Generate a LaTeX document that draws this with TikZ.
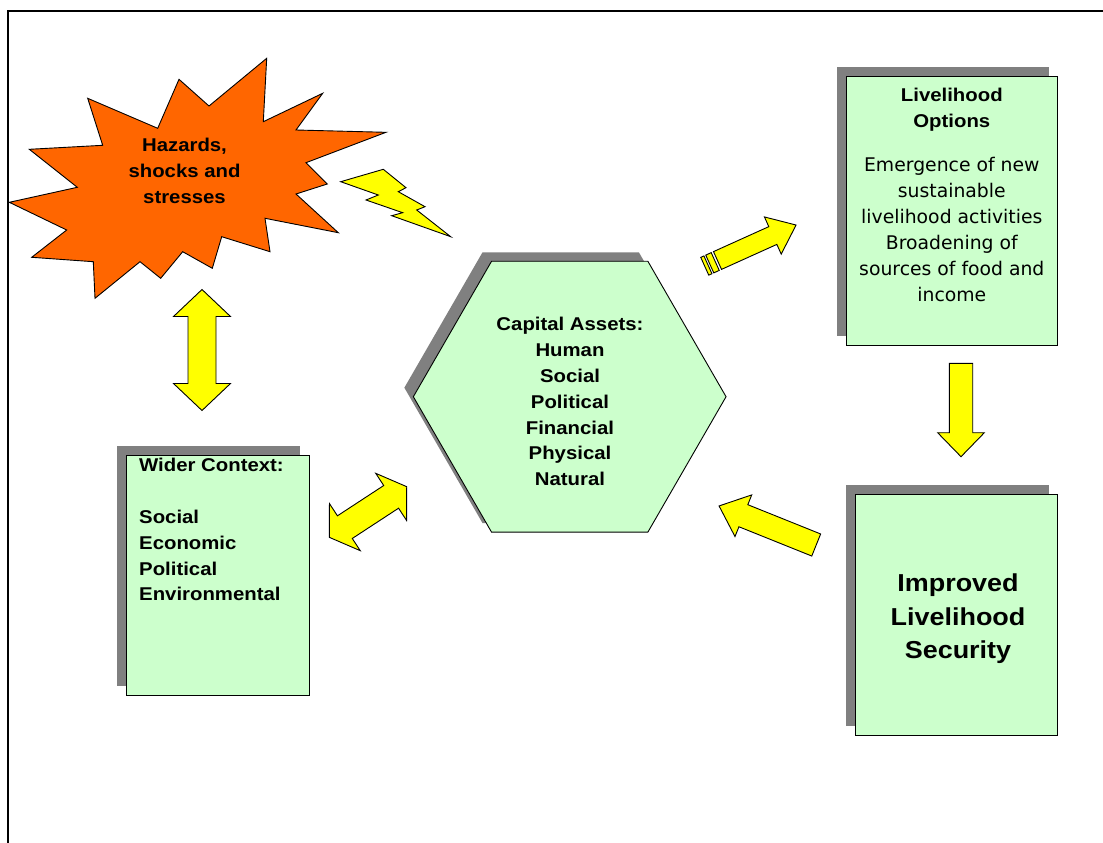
\documentclass[tikz,border=0pt]{standalone}
\usepackage{fontspec}
\setmainfont{DejaVu Sans}
\newfontfamily\labelfont[FakeStretch=1.1]{Liberation Sans}
\usetikzlibrary{shapes.geometric,shadows}

\definecolor{boxgreen}{HTML}{CCFFCC}
\definecolor{burst}{HTML}{FF6600}
\definecolor{shadowgray}{HTML}{808080}
\definecolor{arrowyellow}{HTML}{FFFF00}

\tikzset{
  outline/.style={draw=black, line width=0.9pt, line join=miter, miter limit=10},
  yellowshape/.style={outline, fill=arrowyellow},
  dropshade/.style={general shadow={shadow xshift=-9pt, shadow yshift=9pt, fill=shadowgray}},
  greenbox/.style={rectangle, outline, fill=boxgreen, dropshade, inner sep=0pt},
  boldlabel/.style={inner sep=0pt, font=\labelfont\bfseries\fontsize{18.5}{25.8}\selectfont},
  bodylabel/.style={inner sep=0pt, font=\fontsize{18.8}{26}\selectfont},
  biglabel/.style={inner sep=0pt, font=\labelfont\bfseries\fontsize{24.5}{33.3}\selectfont},
  % single block arrow along +x: length, shaft width, head width, head length
  pics/blockarrow/.style n args={4}{code={
    \path[yellowshape] (0,#2/2) -- ({#1-#4},#2/2) -- ({#1-#4},#3/2) -- (#1,0)
      -- ({#1-#4},-#3/2) -- ({#1-#4},-#2/2) -- (0,-#2/2) -- cycle;}},
  % the same arrow with two stripes behind its tail
  pics/stripedarrow/.style n args={4}{code={
    \path[yellowshape] (0,#2/2) -- ({#1-#4},#2/2) -- ({#1-#4},#3/2) -- (#1,0)
      -- ({#1-#4},-#3/2) -- ({#1-#4},-#2/2) -- (0,-#2/2) -- cycle;
    \path[yellowshape] (-14,#2/2) -- (-10.5,#2/2) -- (-10.5,-#2/2) -- (-14,-#2/2) -- cycle;
    \path[yellowshape] (-8.5,#2/2) -- (-2.5,#2/2) -- (-2.5,-#2/2) -- (-8.5,-#2/2) -- cycle;}},
  % double-headed block arrow centred on the origin
  pics/twowayarrow/.style n args={4}{code={
    \path[yellowshape] (-#1/2,0) -- ({-#1/2+#4},#3/2) -- ({-#1/2+#4},#2/2)
      -- ({#1/2-#4},#2/2) -- ({#1/2-#4},#3/2) -- (#1/2,0) -- ({#1/2-#4},-#3/2)
      -- ({#1/2-#4},-#2/2) -- ({-#1/2+#4},-#2/2) -- ({-#1/2+#4},-#3/2) -- cycle;}},
}

\begin{document}
\begin{tikzpicture}[x=1pt,y=-1pt]
\useasboundingbox (0,0) rectangle (1103,843);
\fill[white] (0,0) rectangle (1103,843);

% page frame (open to the right and bottom)
\draw[line width=2pt] (8,870) -- (8,11) -- (1130,11);

% hazards starburst
\path[outline, fill=burst]
  (266.7,58.3) -- (263.3,121.7) -- (322.7,93.3) -- (296,130) -- (386,132.3)
  -- (306,162.7) -- (327.3,184) -- (296,194) -- (338.3,232.7) -- (265,218.3)
  -- (270,251.7) -- (221.7,236.7) -- (212.3,268.3) -- (182.7,251.7)
  -- (160.7,278.3) -- (140,261.7) -- (95,298.3) -- (93.3,261.7)
  -- (31.7,257.3) -- (66.7,230) -- (9.3,202.3) -- (77.3,187.3)
  -- (29.3,149.3) -- (102.7,145.3) -- (87.7,98.3) -- (157.7,128.3)
  -- (179,79.3) -- (209,106) -- cycle;
\node[boldlabel, align=center, anchor=north] (hazards) at (184.5,138.2)
  {Hazards,\\shocks and\\stresses};

% lightning bolt
\path[yellowshape]
  (340.7,181.7) -- (383.3,169.3) -- (406,187.7) -- (398.3,191.7) -- (425,206.7)
  -- (416.7,210) -- (450.7,236.7) -- (391.7,215.7) -- (402.7,212.7)
  -- (366,200) -- (378.3,195) -- cycle;

% capital assets hexagon
\node[regular polygon, regular polygon sides=6, minimum size=312.7pt, inner sep=0pt,
      outline, fill=boxgreen, dropshade] (assets) at (569.7,396.7) {};
\node[boldlabel, align=center, anchor=north] (assetstext) at (570,317.2)
  {Capital Assets:\\Human\\Social\\Political\\Financial\\Physical\\Natural};

% wider context box
\node[greenbox, minimum width=183.3pt, minimum height=240pt] (context) at (217.7,575) {};
\node[boldlabel, align=left, anchor=north west] (contexttext) at (139,458.2)
  {Wider Context:\\[25.8pt]Social\\Economic\\Political\\Environmental};

% livelihood options box
\node[greenbox, minimum width=211.7pt, minimum height=269pt] (options) at (951.8,210.5) {};
\node[boldlabel, align=center, anchor=north] (optionstitle) at (951.8,88.2)
  {Livelihood\\Options};
\node[bodylabel, align=center, anchor=north] (optionsbody) at (951.8,157.4)
  {Emergence of new\\sustainable\\livelihood activities\\Broadening of\\sources of food and\\income};

% improved livelihood security box
\node[greenbox, minimum width=202.7pt, minimum height=241pt] (security) at (956.3,614.5) {};
\node[biglabel, align=center, anchor=north] (securitytext) at (958,573.8)
  {Improved\\Livelihood\\Security};

% block arrows
\pic[shift={(202,350)}, rotate=90] {twowayarrow={121}{28}{57}{27}};
\pic[shift={(368,512)}, rotate=33.2] {twowayarrow={92.5}{27.1}{56.3}{18.6}};
\pic[shift={(717.5,260.5)}, rotate=24.3] {stripedarrow={86.2}{19.5}{40.8}{25.5}};
\pic[shift={(961,363.3)}, rotate=-90] {blockarrow={93.4}{23.4}{46.7}{24}};
\pic[shift={(816.2,545)}, rotate=158.1] {blockarrow={104.7}{23.8}{44.9}{26.2}};
\end{tikzpicture}
\end{document}
